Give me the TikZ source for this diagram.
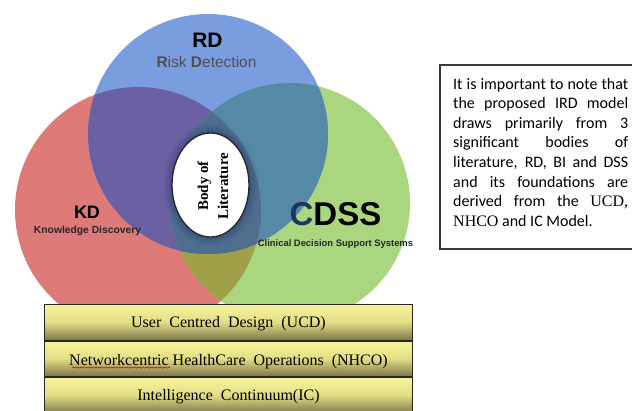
\documentclass[tikz,border=0pt]{standalone}
\usepackage{fontspec}
\setmainfont{Liberation Serif}
\setsansfont{Liberation Sans}
\newfontfamily\calibri{Carlito}
\usetikzlibrary{decorations.pathmorphing}
\definecolor{kdred}{HTML}{DE7A78}
\definecolor{cdgreen}{HTML}{A9D67E}
\definecolor{rdblue}{HTML}{7A9DE0}
\definecolor{rbmix}{HTML}{6B60A2}
\definecolor{gbmix}{HTML}{5589A6}
\definecolor{rgmix}{HTML}{A0A048}
\definecolor{allmix}{HTML}{4F6E8E}
\definecolor{rdgray}{HTML}{505050}
\definecolor{navy}{HTML}{1F3460}
\definecolor{boxtop}{HTML}{F9F59C}
\definecolor{boxmid}{HTML}{E2DE86}
\definecolor{boxbot}{HTML}{7E784A}
\definecolor{notegray}{HTML}{3A3A3A}
\tikzset{
  rowbox/.style={draw=black!85, line width=0.9pt, top color=boxtop, bottom color=boxbot, middle color=boxmid},
  rowtext/.style={anchor=base, inner sep=0pt, font=\fontsize{16}{19}\selectfont},
  lbl/.style={anchor=base, inner sep=0pt},
}
\begin{document}
\begin{tikzpicture}[x=1pt,y=-1pt]
\useasboundingbox (0,0) rectangle (632,410);
\def\redc{(138,210) circle [radius=123pt]}
\def\greenc{(290,203) circle [radius=120pt]}
\def\bluec{(208,134) circle [radius=120pt]}
% base circles
\fill[kdred] \redc;
\fill[cdgreen] \greenc;
\fill[rdblue] \bluec;
% pairwise overlaps
\begin{scope}\clip \redc; \fill[rgmix] \greenc; \fill[rbmix] \bluec; \end{scope}
\begin{scope}\clip \greenc; \fill[gbmix] \bluec; \end{scope}
\begin{scope}\clip \redc; \clip \greenc; \fill[allmix] \bluec; \end{scope}
% halo round the central ellipse
\foreach \d/\o in {9/0.05,6/0.07,3/0.09}{
  \fill[black!70!blue, opacity=\o] (210.5,185) ellipse [x radius=38.5pt+\d pt, y radius=52pt+\d pt];
}
\draw[fill=white, line width=1.3pt, draw=black!85] (210.5,185) ellipse [x radius=38.5pt, y radius=52pt];
\node[rotate=90, align=center, inner sep=0pt, font=\bfseries\fontsize{15}{20}\selectfont] (bol) at (213,186) {Body of\\Literature};
% labels
\node[lbl, font=\sffamily\bfseries\fontsize{21}{21}\selectfont] (rd) at (207.5,47) {RD};
\node[lbl, font=\sffamily\fontsize{15.5}{16}\selectfont, text=rdgray] (rdsub) at (206.5,67) {\textbf{R}isk \textbf{D}etection};
\node[lbl, font=\sffamily\bfseries\fontsize{18}{18}\selectfont] (kd) at (87,218) {KD};
\node[lbl, font=\sffamily\bfseries\fontsize{10.3}{11}\selectfont, text=black!85] (kdsub) at (87.5,233.5) {Knowledge Discovery};
\node[lbl, font=\sffamily\bfseries\fontsize{33}{33}\selectfont] (cdss) at (335.5,225) {\textcolor{navy}{C}DSS};
\node[lbl, font=\sffamily\bfseries\fontsize{9.4}{10}\selectfont, text=black!85] (cdsssub) at (335.5,246) {Clinical Decision Support Systems};
% note box
\draw[line width=1.4pt, draw=notegray] (440,65) rectangle (640,249);
\node[anchor=base west, inner sep=0pt] (note) at (453,89) {\parbox[t]{175pt}{\calibri\fontsize{16}{19.6}\selectfont
\makebox[175pt][s]{It is important to note that}\\
\makebox[175pt][s]{the proposed IRD model}\\
\makebox[175pt][s]{draws primarily from 3}\\
\makebox[175pt][s]{significant bodies of}\\
\makebox[175pt][s]{literature, RD, BI and DSS}\\
\makebox[175pt][s]{and its foundations are}\\
\makebox[175pt][s]{derived from the \textrm{UCD,}}\\
\textrm{NHCO} and IC Model.}};
% foundation rows
\path[rowbox] (44,304) rectangle (412,340);
\path[rowbox] (44,341) rectangle (412,376);
\path[rowbox] (44,377) rectangle (412,413);
\node[rowtext] (ucd) at (228.5,327.7) {User\ \ Centred\ \ Design\ \ (UCD)};
\node[rowtext] (nhco) at (228.5,365) {Networkcentric\ HealthCare\ \ Operations\ \ (NHCO)};
\node[rowtext] (ic) at (228.5,400) {Intelligence\ \ Continuum(IC)};
\coordinate (wavyA) at (72,367.5);
\coordinate (wavyB) at (170,367.5);
\draw[red!85!black, line width=0.5pt, decorate, decoration={snake, amplitude=0.7pt, segment length=2.6pt}] (wavyA) -- (wavyB);
\end{tikzpicture}
\end{document}
